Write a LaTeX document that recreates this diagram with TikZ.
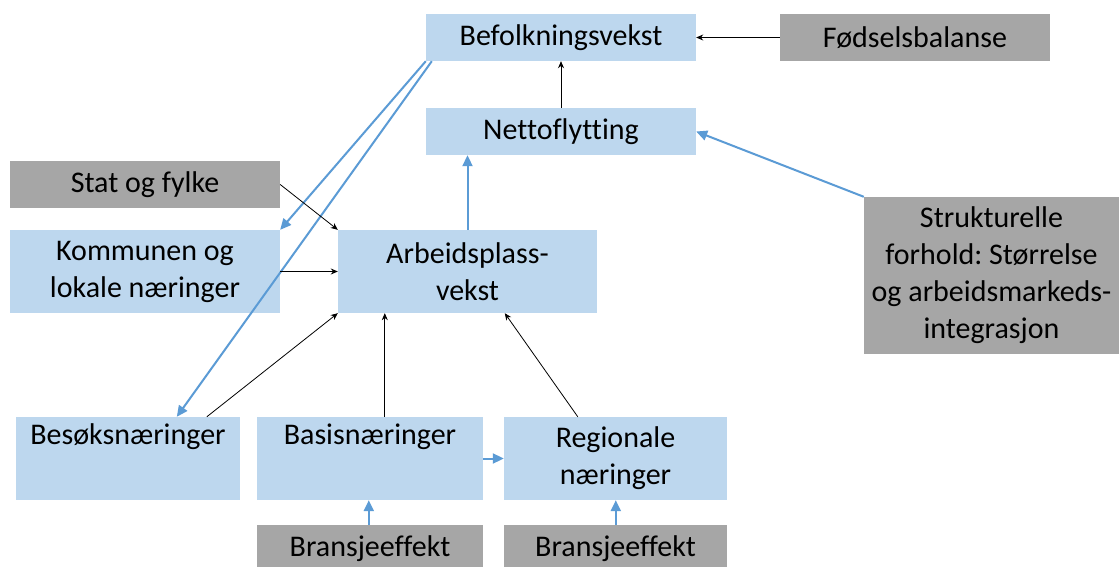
\documentclass[tikz,border=0pt]{standalone}
\usepackage{fontspec}
\setmainfont[Ligatures=NoCommon]{Carlito}
\usetikzlibrary{arrows.meta,calc,backgrounds}
\definecolor{boxblue}{HTML}{BDD7EE}
\definecolor{boxgray}{HTML}{A6A6A6}
\definecolor{lineblue}{HTML}{5B9BD5}
\frenchspacing
\begin{document}
\begin{tikzpicture}[x=1pt,y=-1pt,
  box/.style={rectangle, inner sep=0pt, align=center, font=\fontsize{30}{37}\selectfont, text=black},
  bbox/.style={box, fill=boxblue},
  gbox/.style={box, fill=boxgray},
  blk/.style={-{Stealth[length=7pt,width=6pt]}, line width=0.8pt, draw=black},
  blu/.style={-{Triangle[length=11pt,width=10pt]}, line width=2pt, draw=lineblue}]
\useasboundingbox (0,0) rectangle (1119,567);
\clip (0,0) rectangle (1119,567);
\fill[white] (0,0) rectangle (1119,567);
\node[bbox, minimum width=270pt, minimum height=47pt] (befolk) at (561,37.5) {Befolkningsvekst};
\node[gbox, minimum width=270pt, minimum height=47pt] (fods) at (915,37.5) {Fødselsbalanse};
\node[bbox, minimum width=270pt, minimum height=47pt] (netto) at (561,131.5) {Nettoflytting};
\node[gbox, minimum width=270pt, minimum height=47pt] (stat) at (145,184.5) {Stat og fylke};
\node[bbox, minimum width=270pt, minimum height=83pt] (komm) at (145,271.5) {Kommunen og\\lokale næringer};
\node[bbox, minimum width=259pt, minimum height=83pt] (arb) at (467.5,271.5) {Arbeidsplass-\\vekst};
\node[gbox, minimum width=255pt, minimum height=157pt] (strukt) at (991.5,275.5) {Strukturelle\\forhold: Størrelse\\og arbeidsmarkeds-\\integrasjon};
\node[bbox, minimum width=224pt, minimum height=83pt] (besok) at (128,458.5) {Besøksnæringer\\\strut};
\node[bbox, minimum width=226pt, minimum height=83pt] (basis) at (370,458.5) {Basisnæringer\\\strut};
\node[bbox, minimum width=223pt, minimum height=83pt] (region) at (615.5,458.5) {Regionale\\næringer};
\node[gbox, minimum width=226pt, minimum height=47pt] (brans1) at (370,548.5) {Bransjeeffekt};
\node[gbox, minimum width=223pt, minimum height=47pt] (brans2) at (615.5,548.5) {Bransjeeffekt};
\begin{scope}[on background layer]
\draw[blu] ($(befolk.south west)+(225,0)$) -- ($(region.north west)+(154,0)$);
\end{scope}
\draw[blk] (fods.west) -- (befolk.east);
\draw[blk] (netto.north) -- (befolk.south);
\draw[blu] (arb.north) -- (arb.north |- netto.south);
\draw[blu] (strukt.north west) -- (netto.east);
\draw[blu] (befolk.south west) -- (komm.north east);
\draw[blu] ($(befolk.south west)+(6,0)$) -- ($(besok.north west)+(161,0)$);
\draw[blk] (stat.east) -- (arb.north west);
\draw[blk] (komm.east) -- (arb.west);
\draw[blk] ($(besok.north west)+(191,0)$) -- (arb.south west);
\draw[blk] ($(basis.north west)+(128,0)$) -- ($(arb.south west)+(47,0)$);
\draw[blk] ($(region.north west)+(74,0)$) -- ($(arb.south west)+(167,0)$);
\draw[blu] (basis.east) -- (region.west);
\draw[blu] ($(brans1.north west)+(112,0)$) -- ($(basis.south west)+(112,0)$);
\draw[blu] ($(brans2.north west)+(112,0)$) -- ($(region.south west)+(112,0)$);
\end{tikzpicture}
\end{document}
